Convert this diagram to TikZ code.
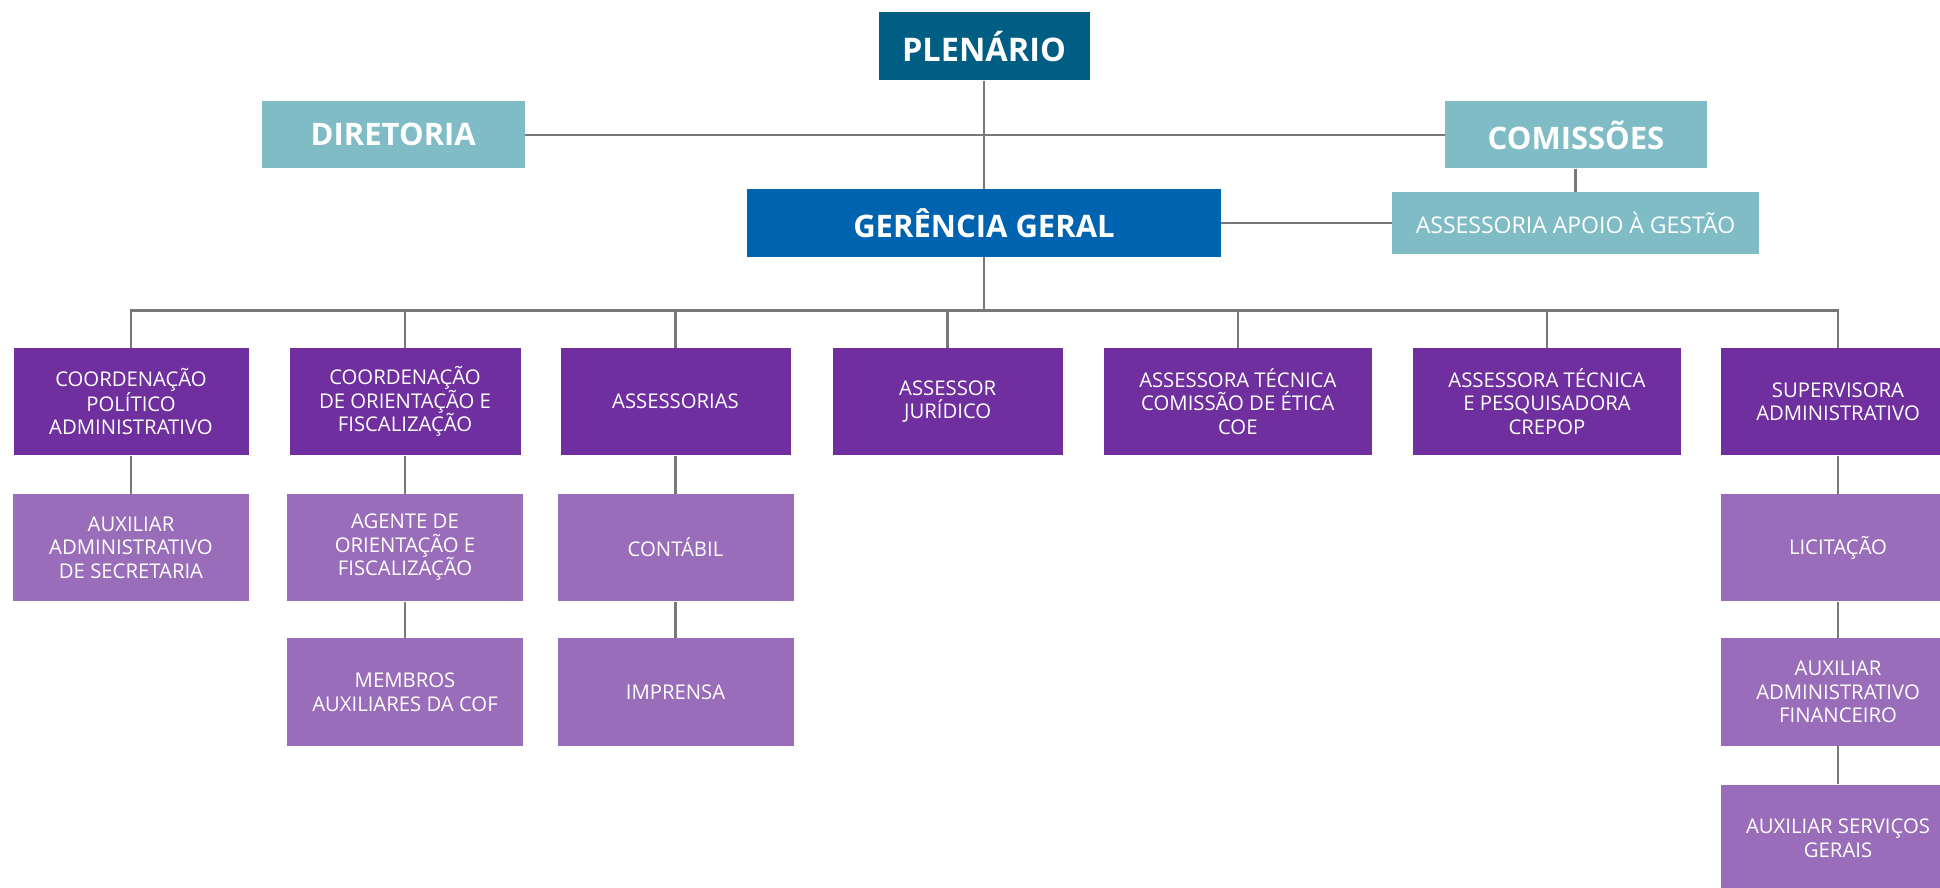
\documentclass[tikz,border=0pt]{standalone}
\usepackage{fontspec}
\setmainfont{Open Sans}
\definecolor{cplen}{RGB}{0,94,132}
\definecolor{cteal}{RGB}{127,188,198}
\definecolor{cger}{RGB}{0,99,175}
\definecolor{cpurple}{RGB}{111,47,159}
\definecolor{clilac}{RGB}{154,109,186}
\definecolor{cline}{RGB}{120,120,120}
\begin{document}
\begin{tikzpicture}[x=1pt,y=-1pt,
  box/.style={rectangle, inner sep=0pt, text=white, align=center},
  bigbox/.style={box, font=\fontsize{31}{36}\selectfont\bfseries},
  rowa/.style={box, fill=cpurple, minimum height=107.6pt, font=\fontsize{20.3}{23.5}\selectfont},
  rowb/.style={box, fill=clilac, minimum height=107.6pt, minimum width=236pt, font=\fontsize{20.3}{23.5}\selectfont},
  conn/.style={draw=cline, line width=2.6pt}]
\clip (0,0) rectangle (1940,887);
\fill[white] (0,0) rectangle (1940,887);
% top level
\node[bigbox, fill=cplen, minimum width=211pt, minimum height=68pt, font=\fontsize{32.5}{36}\selectfont\bfseries] (plen) at (984,46.4) {PLENÁRIO};
\node[bigbox, fill=cteal, minimum width=262.6pt, minimum height=67pt] (dir) at (393.3,134.9) {DIRETORIA};
\node[bigbox, fill=cteal, minimum width=262.5pt, minimum height=67pt] (com) at (1576,134.9) {COMISSÕES};
\node[bigbox, fill=cger, minimum width=474pt, minimum height=68pt] (ger) at (984,223) {GERÊNCIA GERAL};
\node[box, fill=cteal, minimum width=367pt, minimum height=62pt, font=\fontsize{23}{28}\selectfont] (apoio) at (1575.5,223) {ASSESSORIA APOIO À GESTÃO};
% row 1
\node[rowa, minimum width=235pt] (c1) at (131,401.5) {COORDENAÇÃO\\POLÍTICO\\ADMINISTRATIVO};
\node[rowa, minimum width=231pt] (c2) at (405,401.5) {COORDENAÇÃO\\DE ORIENTAÇÃO E\\FISCALIZAÇÃO};
\node[rowa, minimum width=230pt] (c3) at (675.5,401.5) {ASSESSORIAS};
\node[rowa, minimum width=230pt] (c4) at (947.7,401.5) {ASSESSOR\\JURÍDICO};
\node[rowa, minimum width=268pt] (c5) at (1237.8,401.5) {ASSESSORA TÉCNICA\\COMISSÃO DE ÉTICA\\COE};
\node[rowa, minimum width=268pt] (c6) at (1547,401.5) {ASSESSORA TÉCNICA\\E PESQUISADORA\\CREPOP};
\node[rowa, minimum width=234pt] (c7) at (1838,401.5) {SUPERVISORA\\ADMINISTRATIVO};
% row 2
\node[rowb] (d1) at (131,547.5) {AUXILIAR\\ADMINISTRATIVO\\DE SECRETARIA};
\node[rowb] (d2) at (405,547.5) {AGENTE DE\\ORIENTAÇÃO E\\FISCALIZAÇÃO};
\node[rowb] (d3) at (675.5,547.5) {CONTÁBIL};
\node[rowb, minimum width=234pt] (d7) at (1838,547.5) {LICITAÇÃO};
% row 3
\node[rowb] (e2) at (405,692.2) {MEMBROS\\AUXILIARES DA COF};
\node[rowb] (e3) at (675.5,692.2) {IMPRENSA};
\node[rowb, minimum width=234pt] (e7) at (1838,692.2) {AUXILIAR\\ADMINISTRATIVO\\FINANCEIRO};
% row 4
\node[rowb, minimum width=234pt] (f7) at (1838,838.4) {AUXILIAR SERVIÇOS\\GERAIS};
% connectors
\coordinate (busL) at (131,310.5);
\coordinate (busR) at (1838,310.5);
\coordinate (busM) at (984,310.5);
\draw[conn] (plen.south) -- (ger.north);
\draw[conn] (dir.east) -- (com.west);
\draw[conn] (ger.east) -- (apoio.west);
\draw[conn] (com.south -| apoio.north) -- (apoio.north);
\draw[conn] (ger.south) -- (busM);
\draw[conn, line cap=rect] (busL) -- (busR);
\foreach \n in {c1,c2,c3,c4,c5,c6,c7} \draw[conn] (\n.north |- busL) -- (\n.north);
\draw[conn] (c1.south) -- (d1.north);
\draw[conn] (c2.south) -- (d2.north);
\draw[conn] (d2.south) -- (e2.north);
\draw[conn] (c3.south) -- (d3.north);
\draw[conn] (d3.south) -- (e3.north);
\draw[conn] (c7.south) -- (d7.north);
\draw[conn] (d7.south) -- (e7.north);
\draw[conn] (e7.south) -- (f7.north);
\end{tikzpicture}
\end{document}
